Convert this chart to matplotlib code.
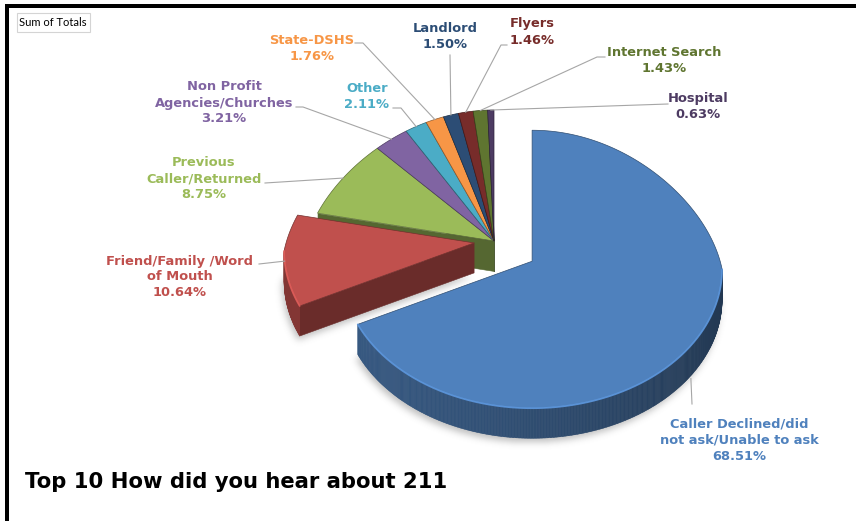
import numpy as np
import matplotlib
matplotlib.use("Agg")
import matplotlib.pyplot as plt
from matplotlib.patches import Polygon, Rectangle
from matplotlib.collections import PolyCollection
from matplotlib.path import Path
from matplotlib.colors import to_rgb

# ---------------- data ----------------
categories = [
    "Caller Declined/did\nnot ask/Unable to ask",
    "Friend/Family /Word\nof Mouth",
    "Previous\nCaller/Returned",
    "Non Profit\nAgencies/Churches",
    "Other",
    "State-DSHS",
    "Landlord",
    "Flyers",
    "Internet Search",
    "Hospital",
]
shares = [68.51, 10.64, 8.75, 3.21, 2.11, 1.76, 1.50, 1.46, 1.43, 0.63]
chart_title = "Top 10 How did you hear about 211"
field_button = "Sum of Totals"

# ---------------- style ----------------
slice_colors = ["#4F81BD", "#C0504D", "#9BBB59", "#8064A2", "#4BACC6",
                "#F79646", "#2C4D75", "#772C2A", "#5F7530", "#4D3B62"]
explode = [0.24, 0.105, 0, 0, 0, 0, 0, 0, 0, 0]

# label block centres and leader-line start points (canvas pixels)
label_xy = [(739, 440), (180, 277), (204, 179), (224, 103), (367, 96.5),
            (312, 48), (445, 36.5), (532, 32), (664, 61), (698, 106.5)]
leader_from = [(692, 404), (259, 264), (265, 183), (296, 107), (393, 108),
               (355, 43), (450, 55), (507, 45), (605, 57), (668, 104)]
leader_elbow = [0, 0, 0, 7, 8, 8, 0, -6, -8, 0]

W, H = 856, 521
PIE_X, PIE_Y = 494, 241     # apex of the un-exploded slices
RX, RY = 190, 139           # rim radii
LIFT = 8                    # rim ellipse centre sits a little below the apex
BACK_SQUEEZE = 0.15         # far side of the disc appears narrower
DEPTH = 30                  # thickness of the pie

fig = plt.figure(figsize=(W / 100, H / 100), dpi=100)
ax = fig.add_axes([0, 0, 1, 1])
ax.set_xlim(0, W)
ax.set_ylim(H, 0)
ax.axis("off")


def rim(cx, cy, th):
    s, c = np.sin(th), np.cos(th)
    squeeze = 1 - BACK_SQUEEZE * np.clip(s, 0, None)
    return cx + RX * c * squeeze, cy + LIFT - RY * s


def shade(color, f):
    return tuple(np.clip(np.array(to_rgb(color)) * f, 0, 1))


frac = np.array(shares) / np.sum(shares)
ends = np.radians(90 - 360 * np.cumsum(frac))
starts = ends + np.radians(360 * frac)

geo = []
for i in range(len(shares)):
    a, b = starts[i], ends[i]
    mid = (a + b) / 2
    ox, oy = rim(0, 0, mid)
    cx, cy = PIE_X + explode[i] * ox, PIE_Y + explode[i] * oy
    n = max(6, int(abs(a - b) / 0.008))
    th = np.linspace(a, b, n)
    xs, ys = rim(cx, cy, th)
    geo.append(dict(a=a, b=b, mid=mid, cx=cx, cy=cy, th=th, xs=xs, ys=ys))

# ---- soft drop shadow below the near side of the pie ----
yy, xx = np.mgrid[0:H, 0:W] + 0.5
pts = np.column_stack([xx.ravel(), yy.ravel()])
mask = np.zeros(H * W, dtype=float)
for g in geo:
    front = np.sin(g["th"]) < 0.05
    if not front.any():
        continue
    poly = np.vstack([[g["cx"], g["cy"] + DEPTH],
                      np.column_stack([g["xs"][front], g["ys"][front] + DEPTH])])
    poly = poly + np.array([-2, 4])
    mask = np.maximum(mask, Path(poly).contains_points(pts).astype(float))
mask = mask.reshape(H, W)
sig = 3.5
k = np.exp(-0.5 * (np.arange(-12, 13) / sig) ** 2)
k /= k.sum()
mask = np.apply_along_axis(lambda r: np.convolve(r, k, mode="same"), 1, mask)
mask = np.apply_along_axis(lambda c: np.convolve(c, k, mode="same"), 0, mask)
shadow = np.zeros((H, W, 4))
shadow[..., :3] = 0.35
shadow[..., 3] = mask * 0.38
ax.imshow(shadow, extent=(0, W, H, 0), zorder=1, interpolation="bilinear")
ax.set_aspect("auto")
ax.set_xlim(0, W)
ax.set_ylim(H, 0)


def draw_walls(i, z):
    g = geo[i]
    col = slice_colors[i]
    cx, cy = g["cx"], g["cy"]
    polys, cols = [], []
    # cut faces
    for ang, visible in ((g["a"], np.cos(g["a"]) < -1e-6),
                         (g["b"], np.cos(g["b"]) > 1e-6)):
        if visible:
            px, py = rim(cx, cy, ang)
            polys.append([(cx, cy), (px, py), (px, py + DEPTH), (cx, cy + DEPTH)])
            cols.append(shade(col, 0.55))
    # curved outer wall on the near side
    th, xs, ys = g["th"], g["xs"], g["ys"]
    for j in range(len(th) - 1):
        if np.sin((th[j] + th[j + 1]) / 2) < 0:
            polys.append([(xs[j], ys[j]), (xs[j + 1], ys[j + 1]),
                          (xs[j + 1], ys[j + 1] + DEPTH), (xs[j], ys[j] + DEPTH)])
            f = 0.55 + 0.13 * np.cos((th[j] + th[j + 1]) / 2 - np.radians(200))
            cols.append(shade(col, f))
    if polys:
        ax.add_collection(PolyCollection(polys, facecolors=cols, edgecolors=cols,
                                         linewidths=0.4, zorder=z))


def draw_top(i, z):
    g = geo[i]
    col = slice_colors[i]
    poly = np.vstack([[g["cx"], g["cy"]], np.column_stack([g["xs"], g["ys"]])])
    ax.add_patch(Polygon(poly, closed=True, facecolor=col,
                         edgecolor=shade(col, 0.6), linewidth=0.5, zorder=z))
    front = np.sin(g["th"]) < 0
    if front.any():
        ax.plot(g["xs"][front], g["ys"][front], color=shade(col, 1.25),
                lw=1.2, alpha=0.8, zorder=z + 0.1, solid_capstyle="round")


# back group (un-exploded), walls from the back forward, then tops
for i in range(len(shares) - 1, 1, -1):
    draw_walls(i, 2)
for i in range(2, len(shares)):
    draw_top(i, 3)
# exploded slices
draw_walls(1, 4)
draw_top(1, 4.5)
draw_walls(0, 5)
draw_top(0, 5.5)

# ---- labels and leader lines ----
for i, g in enumerate(geo):
    pct = f"{shares[i]:.2f}%"
    ax.text(label_xy[i][0], label_xy[i][1], f"{categories[i]}\n{pct}",
            ha="center", va="center", multialignment="center",
            color=slice_colors[i], fontsize=9.4, fontweight="bold",
            family="DejaVu Sans", linespacing=1.30, zorder=8)
    ex, ey = rim(g["cx"], g["cy"], g["mid"])
    if np.sin(g["mid"]) < -0.3:
        ey = ey + DEPTH + 3
    sx, sy = leader_from[i]
    path_x = [sx]
    path_y = [sy]
    if leader_elbow[i]:
        path_x.append(sx + leader_elbow[i])
        path_y.append(sy)
    path_x.append(ex)
    path_y.append(ey)
    ax.plot(path_x, path_y, color="#A6A6A6", lw=0.8, zorder=7)

# ---- title, field button, frame ----
ax.text(25, 482, chart_title, ha="left", va="center", fontsize=15.2,
        fontweight="bold", family="DejaVu Sans", color="black", zorder=8)
ax.add_patch(Rectangle((17, 13), 73, 19, facecolor="white",
                       edgecolor="#D4D4D4", lw=0.8, zorder=8))
ax.text(19.5, 22.5, field_button, ha="left", va="center", fontsize=8,
        family="Lato", color="black", zorder=9)
ax.add_patch(Rectangle((5, 4), W - 5, 4, facecolor="black", edgecolor="none", zorder=9))
ax.add_patch(Rectangle((5, 4), 4, H - 4, facecolor="black", edgecolor="none", zorder=9))

fig.savefig("out.png", dpi=100)
